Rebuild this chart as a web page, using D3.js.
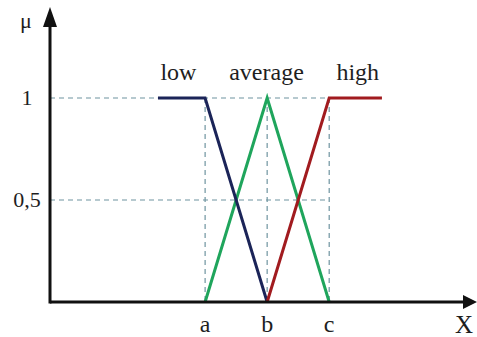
<!DOCTYPE html>
<html lang="en">
<head>
    <meta charset="UTF-8">
    <title>Fuzzy sets</title>
    <script type="application/javascript" src="https://cdn.jsdelivr.net/npm/d3@7"></script>
    <style type="text/css">
        body { margin: 0; background: #fff; }
        text { font-family: "Liberation Serif", "DejaVu Serif", serif; fill: #1e1e1e; }
    </style>
</head>
<body>
<svg id="chart" width="477" height="337"></svg>
<script type="application/javascript">
    // membership functions, x in abstract units (a=2.5, b=3.5, c=4.5)
    var lowPts = [[1.74, 1], [2.5, 1], [3.5, 0]];
    var averagePts = [[2.5, 0], [3.5, 1], [4.5, 0]];
    var highPts = [[3.5, 0], [4.5, 1], [5.35, 1]];
    var xTicks = [2.5, 3.5, 4.5];
    var xTickLabels = ['a', 'b', 'c'];
    var yTicks = [0.5, 1];
    var yTickLabels = ['0,5', '1'];
    var setNames = ['low', 'average', 'high'];
    var setNameX = [2.07, 3.49, 4.96];

    var svg = d3.select('#chart');
    var x = d3.scaleLinear().domain([0, 6.85]).range([50, 475]);
    var y = d3.scaleLinear().domain([0, 1]).range([302, 98]);

    var line = d3.line()
        .x(function (d) { return x(d[0]); })
        .y(function (d) { return y(d[1]); });

    var dash = '#6f94a0';

    // horizontal guides
    yTicks.forEach(function (t) {
        svg.append('line')
            .attr('x1', x(0)).attr('x2', x(4.5))
            .attr('y1', y(t)).attr('y2', y(t))
            .attr('stroke', dash).attr('stroke-width', 1.2)
            .attr('stroke-dasharray', '5,4');
    });
    // vertical guides
    xTicks.forEach(function (t) {
        svg.append('line')
            .attr('x1', x(t)).attr('x2', x(t))
            .attr('y1', y(1)).attr('y2', y(0))
            .attr('stroke', dash).attr('stroke-width', 1.2)
            .attr('stroke-dasharray', '5,4');
    });

    var series = [
        {pts: averagePts, color: '#1fa55c'},
        {pts: lowPts, color: '#1b2458'},
        {pts: highPts, color: '#a11b1f'}
    ];
    series.forEach(function (s) {
        svg.append('path')
            .datum(s.pts)
            .attr('fill', 'none')
            .attr('stroke', s.color)
            .attr('stroke-width', 3)
            .attr('stroke-linejoin', 'miter')
            .attr('d', line);
    });

    // axes
    svg.append('line')
        .attr('x1', x(0)).attr('x2', 463)
        .attr('y1', y(0)).attr('y2', y(0))
        .attr('stroke', '#111').attr('stroke-width', 3);
    svg.append('path')
        .attr('d', 'M463,' + (y(0) - 7) + 'L477,' + y(0) + 'L463,' + (y(0) + 7) + 'Z')
        .attr('fill', '#111');
    svg.append('line')
        .attr('x1', x(0)).attr('x2', x(0))
        .attr('y1', y(0) + 1.5).attr('y2', 26)
        .attr('stroke', '#111').attr('stroke-width', 3);
    svg.append('path')
        .attr('d', 'M' + (x(0) - 7) + ',27L' + x(0) + ',7L' + (x(0) + 7) + ',27Z')
        .attr('fill', '#111');

    // tick labels
    svg.selectAll('.xlab').data(xTicks).enter().append('text')
        .attr('x', function (d) { return x(d); })
        .attr('y', 332)
        .attr('text-anchor', 'middle')
        .style('font-size', '24px')
        .text(function (d, i) { return xTickLabels[i]; });
    svg.selectAll('.ylab').data(yTicks).enter().append('text')
        .attr('x', 27)
        .attr('y', function (d) { return y(d) + 7; })
        .attr('text-anchor', 'middle')
        .style('font-size', '22px')
        .text(function (d, i) { return yTickLabels[i]; });

    svg.append('text').attr('x', 464).attr('y', 333)
        .attr('text-anchor', 'middle').style('font-size', '25px').text('X');
    svg.append('text').attr('x', 26).attr('y', 28)
        .attr('text-anchor', 'middle').style('font-size', '22px').text('μ');

    svg.selectAll('.name').data(setNames).enter().append('text')
        .attr('x', function (d, i) { return x(setNameX[i]); })
        .attr('y', 80)
        .attr('text-anchor', 'middle')
        .style('font-size', '24px')
        .text(function (d) { return d; });
</script>
</body>
</html>
